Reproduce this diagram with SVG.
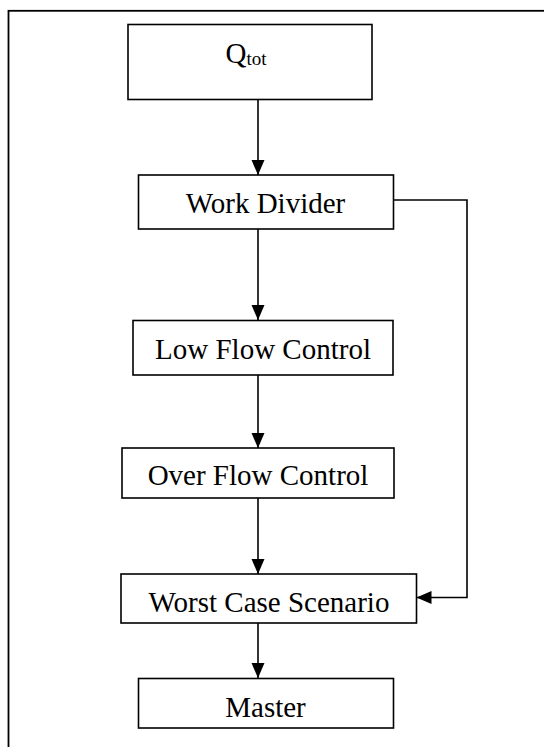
<svg xmlns="http://www.w3.org/2000/svg" width="544" height="747" viewBox="0 0 544 747">
<defs>
<marker id="ah" markerUnits="userSpaceOnUse" markerWidth="16" markerHeight="14" refX="15" refY="6.5" orient="auto">
<path d="M0,0 L15,6.5 L0,13 Z" fill="#000"/>
</marker>
<style>
.box{fill:#fff;stroke:#000;stroke-width:1.6}
.con{fill:none;stroke:#000;stroke-width:1.6}
</style>
</defs>
<rect x="0" y="0" width="544" height="747" fill="#fff"/>
<rect x="8.5" y="10.8" width="545" height="750" fill="none" stroke="#000" stroke-width="1.8"/>
<g id="connectors">
<line class="con" x1="258" y1="99" x2="258" y2="175" marker-end="url(#ah)"/>
<line class="con" x1="258" y1="229" x2="258" y2="320" marker-end="url(#ah)"/>
<line class="con" x1="258" y1="375" x2="258" y2="448" marker-end="url(#ah)"/>
<line class="con" x1="258" y1="498" x2="258" y2="574" marker-end="url(#ah)"/>
<line class="con" x1="258" y1="623" x2="258" y2="678" marker-end="url(#ah)"/>
<polyline class="con" points="393,200 467,200 467,597.5 416.5,597.5" marker-end="url(#ah)"/>
</g>
<g font-family="'Liberation Serif', 'Times New Roman', serif" font-size="29" fill="#000" text-anchor="middle">
<g id="qtot">
<rect class="box" x="128" y="24.5" width="244" height="75"/>
<text x="246" y="63">Q<tspan font-size="19" dy="2">tot</tspan></text>
</g>
<g id="work-divider">
<rect class="box" x="138.5" y="175" width="255" height="54"/>
<text x="265.5" y="213">Work Divider</text>
</g>
<g id="low-flow-control">
<rect class="box" x="133" y="320.5" width="260" height="54.5"/>
<text x="263" y="359">Low Flow Control</text>
</g>
<g id="over-flow-control">
<rect class="box" x="122" y="448" width="272" height="50"/>
<text x="258" y="485">Over Flow Control</text>
</g>
<g id="worst-case-scenario">
<rect class="box" x="121" y="574" width="295.5" height="49"/>
<text x="269" y="612">Worst Case Scenario</text>
</g>
<g id="master">
<rect class="box" x="138.5" y="678.5" width="255" height="49.5"/>
<text x="265.5" y="717">Master</text>
</g>
</g>
</svg>
